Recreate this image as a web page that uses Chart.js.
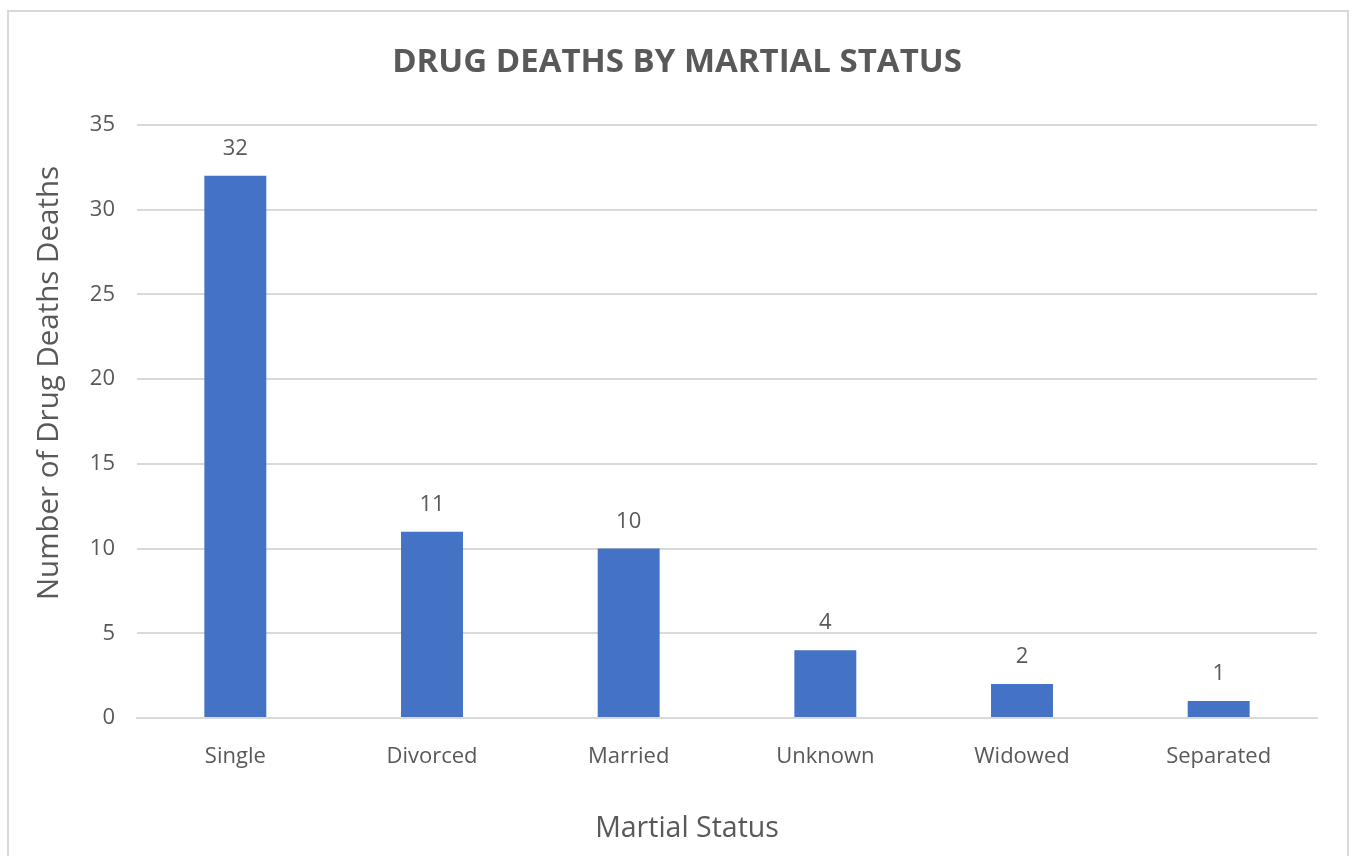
<!DOCTYPE html>
<html>
<head>
<meta charset="utf-8">
<script src="https://cdn.jsdelivr.net/npm/chart.js@4/dist/chart.umd.min.js"></script>
<style>
  html, body { margin: 0; padding: 0; background: #ffffff; }
  #wrap { position: relative; width: 1353px; height: 856px; }
</style>
</head>
<body>
<div id="wrap"><canvas id="c" width="1353" height="856"></canvas></div>
<script>
// Deaths by marital status
const categories = ['Single', 'Divorced', 'Married', 'Unknown', 'Widowed', 'Separated'];
const deaths = [32, 11, 10, 4, 2, 1];
const yTicks = [0, 5, 10, 15, 20, 25, 30, 35];
const chartTitle = 'DRUG DEATHS BY MARTIAL STATUS';
const xTitle = 'Martial Status';
const yTitle = 'Number of Drug Deaths Deaths';

const textColor = '#595959';
const gridColor = '#d9d9d9';
const fontFamily = '"Open Sans", sans-serif';

// Frame around the chart
const framePlugin = {
  id: 'frame',
  beforeDraw(chart) {
    const ctx = chart.ctx;
    ctx.save();
    ctx.fillStyle = '#ffffff';
    ctx.fillRect(0, 0, chart.width, chart.height);
    ctx.strokeStyle = gridColor;
    ctx.lineWidth = 2;
    ctx.strokeRect(8, 11, 1340, 900);
    ctx.restore();
  }
};

// Value labels above each bar
const valueLabels = {
  id: 'valueLabels',
  afterDatasetsDraw(chart) {
    const ctx = chart.ctx;
    const meta = chart.getDatasetMeta(0);
    ctx.save();
    ctx.fillStyle = textColor;
    ctx.font = '22px ' + fontFamily;
    ctx.textAlign = 'center';
    ctx.textBaseline = 'middle';
    meta.data.forEach((bar, i) => {
      ctx.fillText(String(chart.data.datasets[0].data[i]), bar.x, bar.y - 27);
    });
    ctx.restore();
  }
};

// Chart title and axis titles, centred on the whole frame
const titles = {
  id: 'titles',
  afterDraw(chart) {
    const ctx = chart.ctx;
    ctx.save();
    ctx.fillStyle = textColor;
    ctx.textAlign = 'center';
    ctx.textBaseline = 'middle';
    ctx.font = 'bold 33px ' + fontFamily;
    ctx.fillText(chartTitle, 677, 63);
    ctx.font = '28.5px ' + fontFamily;
    ctx.fillText(xTitle, 687, 829);
    ctx.translate(50, 383);
    ctx.rotate(-Math.PI / 2);
    ctx.font = '29.5px ' + fontFamily;
    ctx.fillText(yTitle, 0, 0);
    ctx.restore();
  }
};

new Chart(document.getElementById('c'), {
  type: 'bar',
  data: {
    labels: categories,
    datasets: [{
      data: deaths,
      backgroundColor: '#4472C4',
      borderWidth: 0,
      categoryPercentage: 1,
      barPercentage: 0.315
    }]
  },
  options: {
    responsive: false,
    animation: false,
    layout: { padding: { left: 0, right: 36, top: 125, bottom: 0 } },
    plugins: {
      legend: { display: false },
      tooltip: { enabled: false },
      title: { display: false }
    },
    scales: {
      x: {
        grid: { display: false, drawTicks: false },
        border: { display: true, color: gridColor, width: 2 },
        ticks: { color: textColor, font: { family: fontFamily, size: 22 }, padding: 26 },
        title: { display: false },
        afterFit(scale) { scale.height = 138; }
      },
      y: {
        min: 0,
        max: 35,
        afterBuildTicks(scale) { scale.ticks = yTicks.map(v => ({ value: v })); },
        grid: { color: gridColor, lineWidth: 2, drawTicks: false },
        border: { display: false },
        ticks: { color: textColor, font: { family: fontFamily, size: 22 }, padding: 22 },
        title: { display: false },
        afterFit(scale) { scale.width = 137; }
      }
    }
  },
  plugins: [framePlugin, valueLabels, titles]
});
</script>
</body>
</html>
